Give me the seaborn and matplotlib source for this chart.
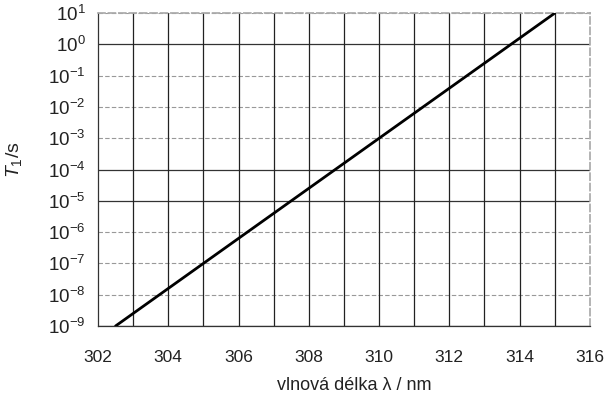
import matplotlib
matplotlib.use("Agg")
import matplotlib.pyplot as plt
import seaborn as sns
import pandas as pd
import numpy as np

# data
wavelength = [302.5, 315.0]
t1 = [1e-9, 1e1]
x_ticks = [302, 304, 306, 308, 310, 312, 314, 316]
y_exponents = list(range(-9, 2))

sns.set_theme(style="white")
plt.rcParams['font.family'] = ['Liberation Sans', 'DejaVu Sans']
plt.rcParams['mathtext.fontset'] = 'custom'
plt.rcParams['mathtext.rm'] = 'Liberation Sans'
plt.rcParams['mathtext.it'] = 'Liberation Sans:italic'
plt.rcParams['axes.unicode_minus'] = False

fig = plt.figure(figsize=(6.11, 3.99), dpi=100)
ax = fig.add_axes([0.1604, 0.183, 0.805, 0.784])

df = pd.DataFrame({"wl": wavelength, "T1": t1})

# grid lines
dark_h = {0, -4, -5, -9}
for e in y_exponents:
    if e in dark_h:
        ax.axhline(10.0**e, color="#333333", lw=0.9, zorder=1)
    else:
        ax.axhline(10.0**e, color="#999999", lw=0.8, ls=(0, (4, 2)), zorder=1)
for v in range(303, 316):
    ax.axvline(v, color="#222222", lw=0.9, zorder=1)

sns.lineplot(data=df, x="wl", y="T1", ax=ax, color="black", lw=2.0, zorder=3)

ax.set_yscale("log")
ax.set_xlim(302, 316)
ax.set_ylim(1e-9, 1e1)
ax.set_xticks(x_ticks)
ax.set_xticklabels([str(t) for t in x_ticks])
ax.set_yticks([10.0**e for e in y_exponents])
ax.set_yticklabels([f"10$^{{{'-' if e < 0 else ''}{abs(e)}}}$" for e in y_exponents])
ax.yaxis.set_minor_locator(matplotlib.ticker.NullLocator())
ax.tick_params(axis="x", length=0, pad=17, labelsize=12.5, labelcolor="#222222")
ax.tick_params(axis="y", length=0, pad=9, labelsize=13.5, labelcolor="#222222")

for side in ["left", "bottom"]:
    ax.spines[side].set_color("#333333")
    ax.spines[side].set_linewidth(0.9)
ax.spines["top"].set_color("#aaaaaa")
ax.spines["top"].set_linestyle((0, (4, 2)))
ax.spines["right"].set_color("#aaaaaa")
ax.spines["right"].set_linestyle((0, (4, 2)))

ax.set_xlabel("vlnová délka λ / nm", fontsize=13, color="#222222", labelpad=9)
ax.xaxis.label.set_x(0.52)
ax.set_ylabel("$T_1$/s", fontsize=14, color="#222222", labelpad=17)
ax.yaxis.label.set_y(0.53)

fig.savefig("out.png", dpi=100)
